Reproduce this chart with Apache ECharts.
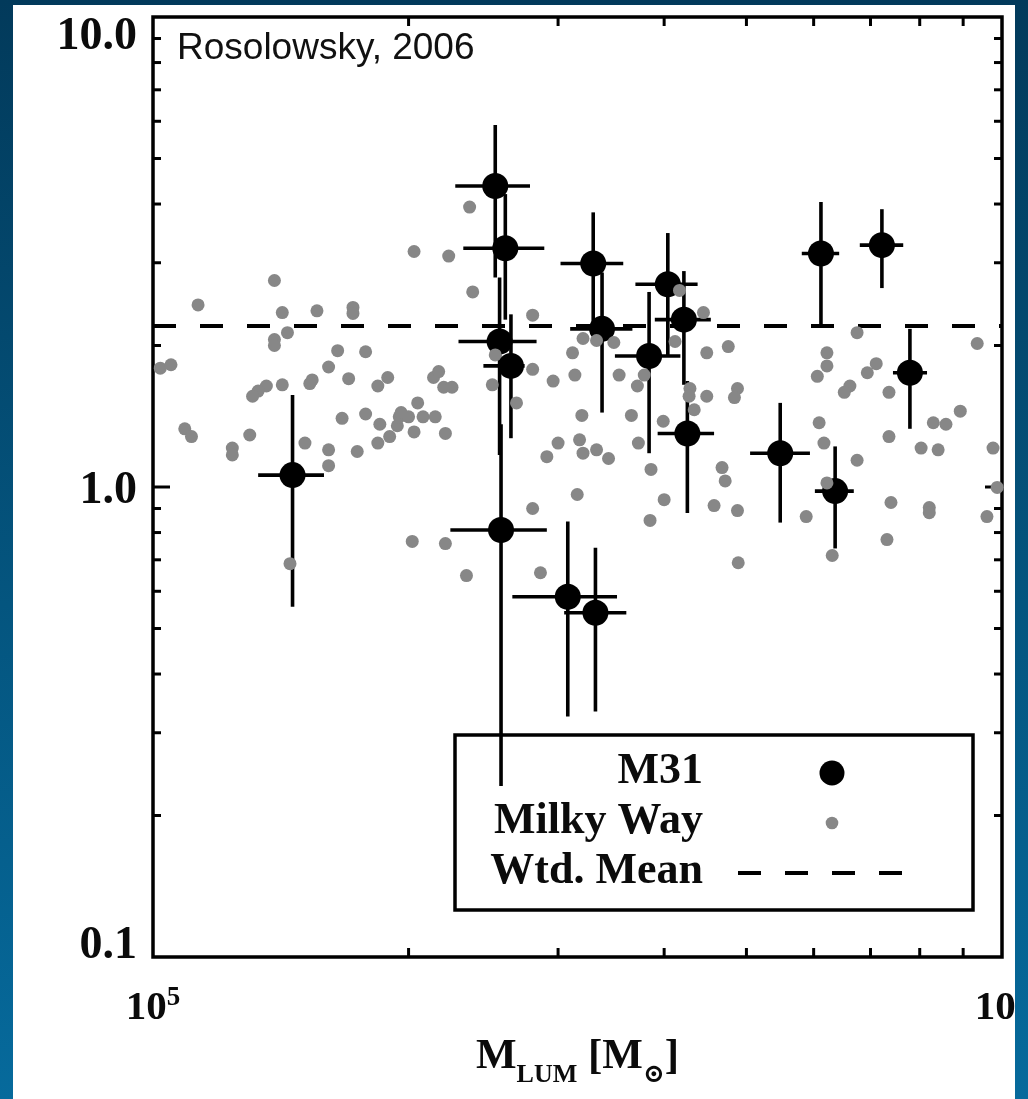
<!DOCTYPE html>
<html>
<head>
<meta charset="utf-8">
<title>M31 vs Milky Way GMCs</title>
<script src="https://cdn.jsdelivr.net/npm/echarts@6/dist/echarts.min.js"></script>
<style>
  html, body {
    margin: 0; padding: 0; width: 1028px; height: 1099px; overflow: hidden;
    background: linear-gradient(to bottom, #023a5b 0%, #04557f 55%, #066a9c 100%);
  }
  #chart {
    position: absolute; left: 13px; top: 5px; width: 1002px; height: 1094px;
    background: #ffffff;
  }
</style>
</head>
<body>
<div id="chart"></div>
<script>
// Axis ranges (log scales)
const massRange = [1e5, 1e6];
const ratioRange = [0.1, 10];

// Weighted mean of the ratio
const wtdMean = 2.2;

// M31 clouds: luminous mass [M_sun] with error range, ratio with error range
const m31Mass      = [2.53e5, 2.60e5, 2.56e5, 2.64e5, 2.57e5, 3.30e5, 3.38e5, 3.84e5, 4.04e5, 4.22e5, 4.26e5, 6.12e5, 7.22e5, 7.79e5, 5.48e5, 6.36e5, 1.46e5, 3.08e5, 3.32e5];
const m31MassLow   = [2.27e5, 2.32e5, 2.29e5, 2.45e5, 2.24e5, 3.02e5, 3.10e5, 3.50e5, 3.70e5, 3.90e5, 3.93e5, 5.81e5, 6.80e5, 7.44e5, 5.05e5, 6.02e5, 1.33e5, 2.65e5, 3.05e5];
const m31MassHigh  = [2.78e5, 2.89e5, 2.83e5, 2.74e5, 2.91e5, 3.58e5, 3.67e5, 4.18e5, 4.38e5, 4.54e5, 4.58e5, 6.43e5, 7.65e5, 8.16e5, 5.94e5, 6.69e5, 1.59e5, 3.52e5, 3.61e5];
const m31Ratio     = [4.37, 3.22, 2.04, 1.81, 0.81, 2.99, 2.17, 1.90, 2.70, 2.27, 1.30, 3.14, 3.27, 1.75, 1.18, 0.98, 1.06, 0.584, 0.540];
const m31RatioLow  = [2.79, 2.27, 1.17, 1.27, 0.231, 2.19, 1.44, 1.18, 1.90, 1.65, 0.88, 2.22, 2.65, 1.33, 0.84, 0.74, 0.556, 0.325, 0.333];
const m31RatioHigh = [5.89, 4.20, 2.79, 2.33, 1.36, 3.84, 2.86, 2.60, 3.47, 2.88, 1.68, 4.04, 3.90, 2.17, 1.51, 1.22, 1.57, 0.845, 0.743];

// Milky Way clouds: luminous mass [M_sun] and ratio
const mwMass = [
  2.03e5, 2.23e5, 1.39e5, 1.13e5, 1.42e5, 1.56e5, 1.72e5, 1.72e5, 1.44e5, 1.39e5,
  1.39e5, 1.02e5, 1.05e5, 1.65e5, 1.78e5, 1.61e5, 1.70e5, 1.54e5, 1.53e5, 1.42e5,
  1.36e5, 1.33e5, 1.31e5, 1.84e5, 1.89e5, 2.14e5, 2.17e5, 2.20e5, 2.25e5, 1.09e5,
  1.11e5, 1.30e5, 1.24e5, 1.24e5, 1.51e5, 1.61e5, 1.74e5, 1.84e5, 1.90e5, 1.94e5,
  1.95e5, 2.00e5, 2.05e5, 2.08e5, 2.15e5, 2.03e5, 2.21e5, 1.67e5, 1.78e5, 1.85e5,
  1.96e5, 1.61e5, 2.02e5, 2.21e5, 1.45e5,
  2.36e5, 2.38e5, 2.80e5, 4.45e5, 3.21e5, 3.33e5, 3.49e5, 3.12e5, 4.76e5, 4.49e5,
  4.12e5, 4.17e5, 2.53e5, 2.51e5, 2.80e5, 2.96e5, 3.14e5, 3.54e5, 3.72e5, 3.79e5,
  4.29e5, 4.28e5, 4.49e5, 4.88e5, 4.84e5, 2.68e5, 3.20e5, 3.66e5, 4.34e5, 3.99e5,
  3.00e5, 3.18e5, 3.21e5, 3.33e5, 3.73e5, 2.91e5, 3.44e5, 3.86e5, 3.16e5, 2.80e5,
  4.00e5, 3.85e5, 4.68e5, 4.72e5, 4.58e5, 4.88e5, 4.89e5, 2.34e5, 2.86e5,
  6.75e5, 6.22e5, 6.22e5, 6.06e5, 6.94e5, 7.11e5, 6.62e5, 6.52e5, 7.36e5, 9.35e5,
  8.93e5, 8.30e5, 8.59e5, 6.09e5, 6.17e5, 7.36e5, 8.03e5, 8.41e5, 9.76e5, 6.75e5,
  6.22e5, 9.87e5, 7.40e5, 8.21e5, 8.21e5, 9.60e5, 5.88e5, 7.32e5, 6.31e5
];
const mwRatio = [
  3.17, 3.10, 2.75, 2.44, 2.35, 2.37, 2.41, 2.34, 2.13, 2.06,
  2.00, 1.79, 1.82, 1.95, 1.94, 1.80, 1.70, 1.69, 1.66, 1.65,
  1.64, 1.60, 1.56, 1.64, 1.71, 1.71, 1.76, 1.63, 1.63, 1.33,
  1.28, 1.29, 1.21, 1.17, 1.24, 1.20, 1.19, 1.24, 1.28, 1.35,
  1.41, 1.41, 1.51, 1.41, 1.41, 1.31, 1.30, 1.40, 1.43, 1.36,
  1.44, 1.11, 0.766, 0.758, 0.687,
  3.94, 2.60, 2.32, 2.35, 2.07, 2.05, 2.03, 1.93, 1.99, 1.93,
  2.04, 2.62, 1.91, 1.65, 1.78, 1.68, 1.73, 1.73, 1.64, 1.73,
  1.62, 1.56, 1.56, 1.62, 1.55, 1.51, 1.42, 1.42, 1.46, 1.38,
  1.24, 1.26, 1.18, 1.20, 1.24, 1.16, 1.15, 1.09, 0.964, 0.900,
  0.940, 0.849, 1.10, 1.03, 0.913, 0.891, 0.690, 0.648, 0.657,
  2.13, 1.93, 1.81, 1.72, 1.75, 1.83, 1.64, 1.59, 1.59, 2.02,
  1.45, 1.37, 1.36, 1.37, 1.24, 1.28, 1.21, 1.20, 1.21, 1.14,
  1.02, 0.998, 0.927, 0.904, 0.882, 0.865, 0.865, 0.773, 0.715
];

// Tick positions on the log axes
const xMinorTicks = [2e5, 3e5, 4e5, 5e5, 6e5, 7e5, 8e5, 9e5];
const yMinorTicks = [0.2, 0.3, 0.4, 0.5, 0.6, 0.7, 0.8, 0.9, 2, 3, 4, 5, 6, 7, 8, 9];
const yMajorTicks = [1];

const SERIF = '"Liberation Serif", "DejaVu Serif", serif';
const INK = '#0b0b0b';
const MW_GREY = '#878787';

const chart = echarts.init(document.getElementById('chart'), null, { renderer: 'canvas' });

const serifStyle = (size, extra) => Object.assign({
  fontFamily: SERIF, fontWeight: 'bold', fontSize: size, color: INK
}, extra || {});

// Tick marks drawn on all four sides of the frame (IDL style)
const tickData = []
  .concat(xMinorTicks.map(v => [v, 1, 0, 0]))
  .concat(yMinorTicks.map(v => [2e5, v, 1, 0]))
  .concat(yMajorTicks.map(v => [2e5, v, 1, 1]));

const option = {
  animation: false,
  grid: {
    left: 140, top: 12, width: 849, height: 940,
    containLabel: false, outerBoundsMode: 'none',
    show: true, borderColor: '#000', borderWidth: 3.5, backgroundColor: 'transparent'
  },
  xAxis: {
    type: 'log', logBase: 10, min: massRange[0], max: massRange[1],
    axisLine: { show: false }, axisTick: { show: false }, splitLine: { show: false },
    axisLabel: {
      margin: 28,
      hideOverlap: false,
      formatter: v => '{b|10}{s|' + Math.round(Math.log10(v)) + '}',
      rich: {
        b: serifStyle(41, { lineHeight: 44, verticalAlign: 'bottom' }),
        s: serifStyle(27, { lineHeight: 20, verticalAlign: 'top' })
      }
    },
    name: '{m|M}{s|LUM}{m| [M}{s|\u2299}{m|]}',
    nameLocation: 'middle',
    nameGap: 78,
    nameTextStyle: {
      rich: {
        m: serifStyle(43, { lineHeight: 44, verticalAlign: 'top' }),
        s: serifStyle(26, { lineHeight: 20, verticalAlign: 'top', padding: [27, 0, 0, 0] })
      }
    }
  },
  yAxis: {
    type: 'log', logBase: 10, min: ratioRange[0], max: ratioRange[1],
    axisLine: { show: false }, axisTick: { show: false }, splitLine: { show: false },
    axisLabel: {
      margin: 16,
      formatter: v => {
        const e = Math.round(Math.log10(v));
        if (e >= 1) return '{t|10.0}';
        if (e === 0) return '{o|1.0}';
        return '{z|0.1}';
      },
      rich: {
        t: serifStyle(46, { lineHeight: 46, padding: [40, 0, 0, 0] }),
        o: serifStyle(46, { lineHeight: 46, padding: [9, 0, 0, 0] }),
        z: serifStyle(46, { lineHeight: 46, padding: [0, 0, 21, 0] })
      }
    }
  },
  series: [
    {
      name: 'ticks',
      type: 'custom',
      silent: true,
      z: 5,
      data: tickData,
      encode: { x: 0, y: 1 },
      renderItem: (params, api) => {
        const cs = params.coordSys;
        const p = api.coord([api.value(0), api.value(1)]);
        const isY = api.value(2) === 1;
        const major = api.value(3) === 1;
        const st = { stroke: '#000', lineWidth: 3 };
        if (!isY) {
          const len = major ? 17 : 9;
          const b = cs.y + cs.height;
          return { type: 'group', children: [
            { type: 'line', shape: { x1: p[0], y1: b, x2: p[0], y2: b - len }, style: st },
            { type: 'line', shape: { x1: p[0], y1: cs.y, x2: p[0], y2: cs.y + len }, style: st }
          ] };
        }
        const len = major ? 17 : 8;
        const r = cs.x + cs.width;
        return { type: 'group', children: [
          { type: 'line', shape: { x1: cs.x, y1: p[1], x2: cs.x + len, y2: p[1] }, style: st },
          { type: 'line', shape: { x1: r, y1: p[1], x2: r - len, y2: p[1] }, style: st }
        ] };
      }
    },
    {
      name: 'Wtd. Mean',
      type: 'line',
      silent: true,
      z: 2,
      symbol: 'none',
      data: [[massRange[0], wtdMean], [massRange[1], wtdMean]],
      lineStyle: { color: '#000', width: 4, type: [23, 24], opacity: 1 }
    },
    {
      name: 'M31 errors',
      type: 'custom',
      silent: true,
      z: 3,
      data: m31Mass.map((m, i) => [m, m31Ratio[i], m31MassLow[i], m31MassHigh[i], m31RatioLow[i], m31RatioHigh[i]]),
      encode: { x: 0, y: 1 },
      renderItem: (params, api) => {
        const c = api.coord([api.value(0), api.value(1)]);
        const xl = api.coord([api.value(2), api.value(1)]);
        const xh = api.coord([api.value(3), api.value(1)]);
        const yl = api.coord([api.value(0), api.value(4)]);
        const yh = api.coord([api.value(0), api.value(5)]);
        const st = { stroke: '#000', lineWidth: 3.6 };
        return { type: 'group', children: [
          { type: 'line', shape: { x1: xl[0], y1: c[1], x2: xh[0], y2: c[1] }, style: st },
          { type: 'line', shape: { x1: c[0], y1: yh[1], x2: c[0], y2: yl[1] }, style: st }
        ] };
      }
    },
    {
      name: 'M31',
      type: 'scatter',
      z: 4,
      symbol: 'circle',
      symbolSize: 26,
      itemStyle: { color: '#000', opacity: 1 },
      data: m31Mass.map((m, i) => [m, m31Ratio[i]])
    },
    {
      name: 'Milky Way',
      type: 'scatter',
      z: 6,
      symbol: 'circle',
      symbolSize: 13,
      itemStyle: { color: MW_GREY, opacity: 1 },
      data: mwMass.map((m, i) => [m, mwRatio[i]])
    }
  ],
  graphic: [
    {
      type: 'text', x: 164, y: 44,
      style: {
        text: 'Rosolowsky, 2006', fontFamily: '"Liberation Sans", Arial, sans-serif',
        fontSize: 37, fill: '#111', align: 'left', verticalAlign: 'middle'
      }
    },
    {
      type: 'group',
      children: [
        { type: 'rect', shape: { x: 442, y: 730, width: 518, height: 175 },
          style: { fill: 'none', stroke: '#000', lineWidth: 3.5 } },
        { type: 'text', x: 690, y: 767,
          style: { text: 'M31', fontFamily: SERIF, fontWeight: 'bold', fontSize: 44, fill: INK, align: 'right', verticalAlign: 'middle' } },
        { type: 'text', x: 690, y: 817,
          style: { text: 'Milky Way', fontFamily: SERIF, fontWeight: 'bold', fontSize: 44, fill: INK, align: 'right', verticalAlign: 'middle' } },
        { type: 'text', x: 690, y: 867,
          style: { text: 'Wtd. Mean', fontFamily: SERIF, fontWeight: 'bold', fontSize: 44, fill: INK, align: 'right', verticalAlign: 'middle' } },
        { type: 'circle', shape: { cx: 819, cy: 768, r: 12.5 }, style: { fill: '#000' } },
        { type: 'circle', shape: { cx: 819, cy: 818, r: 6.3 }, style: { fill: MW_GREY } },
        { type: 'line', shape: { x1: 725, y1: 868, x2: 889, y2: 868 },
          style: { stroke: '#000', lineWidth: 4, lineDash: [23, 24] } }
      ]
    }
  ]
};

chart.setOption(option);
</script>
</body>
</html>
